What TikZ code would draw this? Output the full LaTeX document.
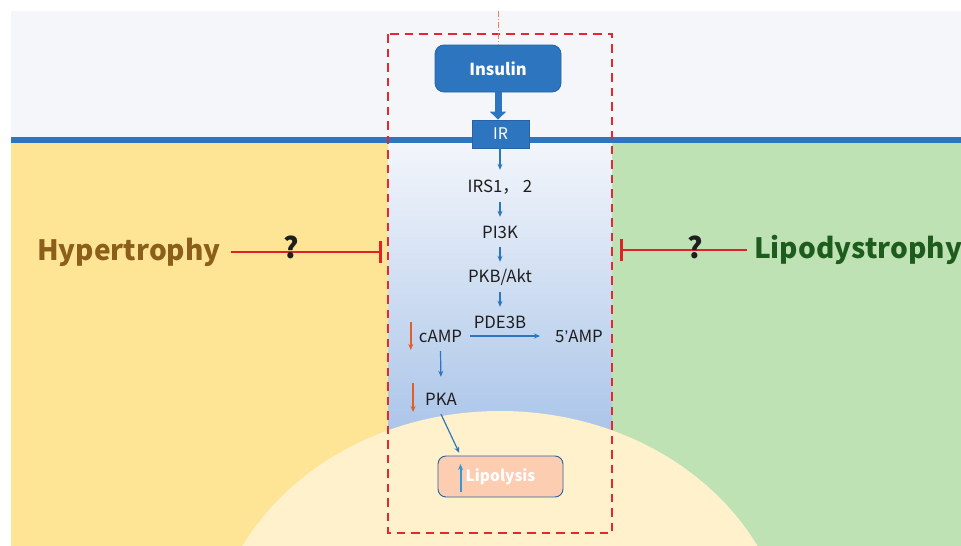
\documentclass[tikz,border=0pt]{standalone}
\usepackage{fontspec}
\setmainfont{Noto Sans CJK SC}
\newfontfamily\narrowpunct{Liberation Sans}
\usetikzlibrary{arrows.meta}

\definecolor{outside}{RGB}{245,246,250}
\definecolor{hypbg}{RGB}{254,229,150}
\definecolor{lipbg}{RGB}{190,226,180}
\definecolor{cellcore}{RGB}{254,241,204}
\definecolor{coltop}{RGB}{243,246,251}
\definecolor{colbot}{RGB}{168,195,232}
\definecolor{membrane}{RGB}{46,117,192}
\definecolor{boxedge}{RGB}{40,98,165}
\definecolor{sigblue}{RGB}{46,117,192}
\definecolor{downorange}{RGB}{226,96,40}
\definecolor{upblue}{RGB}{52,152,216}
\definecolor{inhibred}{RGB}{224,34,39}
\definecolor{frame}{RGB}{232,38,45}
\definecolor{ligand}{RGB}{240,130,80}
\definecolor{peach}{RGB}{253,205,178}
\definecolor{hyptext}{RGB}{139,94,26}
\definecolor{liptext}{RGB}{30,92,30}
\definecolor{ink}{RGB}{30,30,30}

\tikzset{
  mol/.style={inner sep=0pt, minimum height=30pt, text=ink,
    font=\fontsize{16.8}{20}\selectfont},
  sig/.style={draw=sigblue, line width=1.2pt,
    -{Stealth[length=6pt,width=5pt]}},
  fall/.style={draw=downorange, line width=2pt,
    -{Stealth[length=6pt,width=5pt]}},
  rise/.style={draw=upblue, line width=2pt,
    -{Stealth[length=6pt,width=5pt]}},
  bluebox/.style={fill=membrane, draw=boxedge, line width=0.8pt,
    text=white, inner sep=0pt},
  inhibit/.style={draw=inhibred, line width=2.5pt,
    -{Bar[width=22pt,line width=3pt]}},
  disease/.style={font=\bfseries\fontsize{28}{32}\selectfont, inner sep=0pt},
  query/.style={font=\bfseries\fontsize{29}{33}\selectfont, text=ink, inner sep=0pt},
}

\begin{document}
\begin{tikzpicture}[x=1pt,y=-1pt]
\useasboundingbox (0,0) rectangle (961,546);
\fill[white] (0,0) rectangle (961,546);

\begin{scope}
  \clip (0,0) rectangle (961,546);
  % extracellular space
  \fill[outside] (11,11) rectangle (961,143);
  % cytoplasm panels
  \fill[hypbg] (11,143) rectangle (388,546);
  \fill[lipbg] (612,143) rectangle (961,546);
  \shade[top color=coltop, bottom color=colbot] (388,141) rectangle (612,445);
  % lipid droplet
  \fill[cellcore] (500,661) ellipse [x radius=290pt, y radius=250pt];
  % plasma membrane
  \draw[membrane, line width=6pt] (11,139.7) -- (961,139.7);
\end{scope}

% pathway frame
\draw[frame, line width=2.2pt, dash pattern=on 8.5pt off 6pt] (388,34) rectangle (612,533);

% receptor and ligand
\node[bluebox, rounded corners=9pt, minimum width=126pt, minimum height=47pt,
      font=\bfseries\fontsize{16.5}{20}\selectfont] (insulin) at (498,68.5) {Insulin};
\node[bluebox, minimum width=57pt, minimum height=28pt,
      font=\fontsize{16}{20}\selectfont] (ir) at (500.5,134) {IR};
\coordinate (source) at (498,11);
\draw[ligand, line width=1pt, dash pattern=on 6pt off 2pt on 1pt off 2pt] (source) -- (insulin.north);
\draw[membrane, line width=7pt, -{Triangle[length=8pt,width=16pt]}]
  (insulin.south) -- (insulin.south |- ir.north);

% signalling cascade
\node[mol] (irs) at (500,187) {IRS1， 2};
\node[mol] (pik) at (500,232) {PI3K};
\node[mol] (pkb) at (500,277) {PKB/Akt};
\node[mol] (pde) at (500,322) {PDE3B};
\node[mol] (camp) at (440.5,336) {cAMP};
\node[mol] (amp) at (579,336) {5{\narrowpunct ’}AMP};
\node[mol] (pka) at (441,399) {PKA};
\node[draw=boxedge, line width=0.9pt, fill=peach, rounded corners=8pt,
      minimum width=125pt, minimum height=41pt, inner sep=0pt, text=white,
      font=\bfseries\fontsize{15.5}{19}\selectfont] (lipo) at (500.5,476.5) {Lipolysis};

\draw[sig, shorten >=2pt] (ir.south -| irs.north) -- (irs.north);
\draw[sig] (irs.south) -- (pik.north);
\draw[sig] (pik.south) -- (pkb.north);
\draw[sig] (pkb.south) -- (pde.north);
\draw[sig] ([xshift=8pt]camp.east) -- ([xshift=-15pt]amp.west);
\draw[sig, shorten >=7pt] (camp.south) -- (pka.north);
\draw[sig, shorten >=3pt] (pka.south) -- ([xshift=-40pt]lipo.north);

% level changes
\draw[fall] ([xshift=-8pt,yshift=14pt]camp.west) -- ([xshift=-8pt,yshift=-14pt]camp.west);
\draw[fall] ([xshift=-12pt,yshift=16pt]pka.west) -- ([xshift=-12pt,yshift=-13pt]pka.west);
\draw[rise] ([xshift=-40pt,yshift=-15.5pt]lipo.center) -- ([xshift=-40pt,yshift=12.5pt]lipo.center);

% phenotypes
\node[disease, text=hyptext] (hyper) at (129,252) {Hypertrophy};
\node[disease, text=liptext, anchor=west] (lipod) at (754,250) {Lipodystrophy};
\coordinate (hbar) at (382,252);
\coordinate (lbar) at (620,250);
\draw[inhibit] ([xshift=10pt]hyper.east) -- (hbar);
\draw[inhibit] ([xshift=-7pt]lipod.west) -- (lbar);
\node[query] (q1) at (291,247) {?};
\node[query] (q2) at (695,247) {?};
\end{tikzpicture}
\end{document}
